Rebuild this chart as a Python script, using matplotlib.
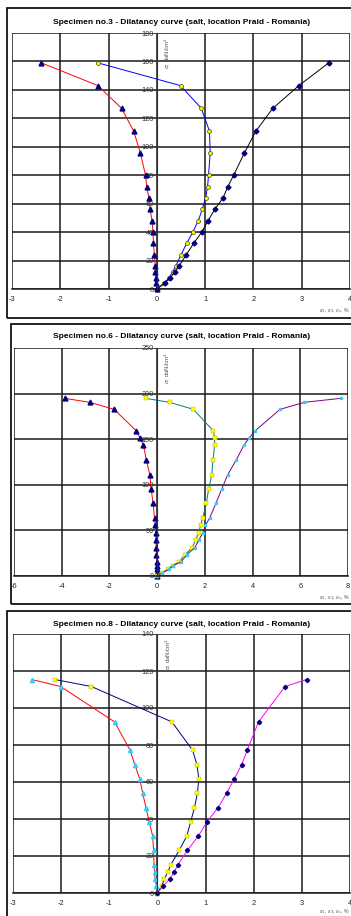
import matplotlib.pyplot as plt
from matplotlib.patches import Rectangle

plt.rcParams['font.family'] = ['Liberation Sans', 'DejaVu Sans']

W, H = 351, 916

# ---- specimen no.3 ----
s3_y = [0, 4, 8, 12, 16, 24, 32, 40, 48, 56, 64, 72, 80, 95.5, 111, 127, 143, 159]
s3_e2 = [0, -0.014, -0.02, -0.03, -0.035, -0.05, -0.07, -0.08, -0.10, -0.138, -0.166,
         -0.21, -0.235, -0.34, -0.48, -0.73, -1.22, -2.39]
s3_ev = [0, 0.145, 0.256, 0.325, 0.39, 0.50, 0.615, 0.746, 0.857, 0.94, 1.01,
         1.05, 1.07, 1.105, 1.09, 0.92, 0.49, -1.22]
s3_e1 = [0, 0.166, 0.276, 0.38, 0.456, 0.608, 0.76, 0.93, 1.06, 1.20, 1.37,
         1.47, 1.59, 1.81, 2.05, 2.40, 2.94, 3.56]

# ---- specimen no.6 ----
s6_y = [0, 3.5, 7.5, 11.5, 15.5, 23.5, 31, 39.5, 47.3, 55.5, 63.5, 79.5, 95.5,
        111.2, 127, 143.2, 151.4, 159, 182.7, 190.4, 194.8]
s6_e2 = [0, 0, -0.005, -0.01, -0.014, -0.03, -0.04, -0.05, -0.056, -0.07, -0.11,
         -0.17, -0.25, -0.31, -0.45, -0.575, -0.72, -0.87, -1.80, -2.82, -3.87]
s6_ev = [0, 0.22, 0.45, 0.65, 0.93, 1.16, 1.47, 1.61, 1.74, 1.82, 1.91, 2.06,
         2.16, 2.29, 2.34, 2.41, 2.41, 2.36, 1.52, 0.53, -0.48]
s6_e1 = [0, 0.22, 0.50, 0.67, 1.0, 1.25, 1.57, 1.75, 1.92, 2.02, 2.20, 2.46,
         2.71, 2.96, 3.31, 3.63, 3.86, 4.10, 5.15, 6.16, 7.70]

# ---- specimen no.8 ----
s8_y = [0, 3.9, 7.7, 11.6, 15.4, 23, 30.8, 38.5, 46.2, 53.9, 61.8, 69.4, 77.2,
        92.5, 111.6, 115.4]
s8_e2 = [0, -0.02, -0.05, -0.06, -0.07, -0.08, -0.10, -0.17, -0.24, -0.305, -0.37,
         -0.47, -0.57, -0.89, -2.01, -2.61]
s8_ev = [0, 0.09, 0.145, 0.22, 0.28, 0.45, 0.61, 0.69, 0.77, 0.83, 0.86, 0.82,
         0.73, 0.30, -1.37, -2.13]
s8_e1 = [0, 0.125, 0.26, 0.35, 0.43, 0.62, 0.85, 1.03, 1.26, 1.435, 1.60, 1.75,
         1.865, 2.10, 2.65, 3.10]

titles = ['Specimen no.3 - Dilatancy curve (salt, location Praid - Romania)',
          'Specimen no.6 - Dilatancy curve (salt, location Praid - Romania)',
          'Specimen no.8 - Dilatancy curve (salt, location Praid - Romania)']
ylab = r'$\sigma$, daN/cm$^2$'
xlab = r'$\varepsilon_1$, $\varepsilon_3$, $\varepsilon_v$, %'

fig = plt.figure(figsize=(W / 100, H / 100), dpi=100)


def px_axes(l, t, r, b):
    return fig.add_axes([l / W, 1 - b / H, (r - l) / W, (b - t) / H])


def frame(l, t, r, b):
    fig.patches.append(Rectangle((l / W, 1 - b / H), (r - l) / W, (b - t) / H,
                                 transform=fig.transFigure, fill=False,
                                 edgecolor='black', linewidth=1.2, zorder=0))


def style(ax, xlim, xticks, ylim, yticks, title, title_y):
    ax.set_xlim(*xlim)
    ax.set_ylim(*ylim)
    ax.set_xticks(xticks)
    ax.set_yticks(yticks)
    ax.grid(True, color='#1a1a1a', linewidth=1.1)
    ax.set_axisbelow(True)
    for s in ['top', 'right']:
        ax.spines[s].set_visible(False)
    ax.spines['left'].set_position(('data', 0))
    ax.spines['left'].set_color('#333333')
    ax.spines['left'].set_linewidth(0.8)
    ax.spines['bottom'].set_color('#1a1a1a')
    ax.spines['bottom'].set_linewidth(1.1)
    ax.tick_params(axis='y', direction='out', length=2, pad=0.3,
                   labelsize=5.3, labelcolor='#333333', color='#444444')
    ax.tick_params(axis='x', length=0, pad=5, labelsize=5.3, labelcolor='#222222')
    ax.set_yticklabels([str(v) for v in yticks])
    ax.set_xticklabels([str(v) for v in xticks])
    for lab in ax.get_yticklabels():
        lab.set_zorder(5)
    fig.text(182 / W, 1 - title_y / H, title, ha='center', va='center',
             fontsize=6, fontweight='bold')
    ax.annotate(ylab, xy=(0, 1), xycoords=ax.get_xaxis_transform(),
                xytext=(7.5, -3), textcoords='offset points', rotation=90,
                ha='center', va='top', fontsize=4.3, color='#555555')


# panel 1
frame(7, 8, 360, 318)
ax1 = px_axes(12, 33, 350, 289)
style(ax1, (-3, 4), range(-3, 5), (0, 180), range(0, 181, 20), titles[0], 22.5)
ax1.plot(s3_e2, s3_y, color='red', lw=0.7, marker='^', ms=3.5,
         mfc='#000080', mec='#000080', clip_on=False)
ax1.plot(s3_ev, s3_y, color='#0000ff', lw=0.7, marker='o', ms=2.8,
         mfc='yellow', mec='#444400', mew=0.5, clip_on=False)
ax1.plot(s3_e1, s3_y, color='black', lw=0.7, marker='D', ms=2.5,
         mfc='#000080', mec='#000080', clip_on=False)
fig.text(350 / W, 1 - 311 / H, xlab, ha='right', va='center', fontsize=3.8,
         color='#555555')

# panel 2
frame(11, 324, 360, 604)
ax2 = px_axes(14, 348, 348, 576)
style(ax2, (-6, 8), range(-6, 9, 2), (0, 250), range(0, 251, 50), titles[1], 337)
ax2.plot(s6_e2, s6_y, color='red', lw=0.7, marker='^', ms=3.5,
         mfc='#000080', mec='#000080', clip_on=False)
ax2.plot(s6_ev, s6_y, color='#008080', lw=0.7, marker='s', ms=2.2,
         mfc='yellow', mec='#aaaa00', mew=0.3, clip_on=False)
ax2.plot(s6_e1, s6_y, color='#800080', lw=0.7, marker='s', ms=2.0,
         mfc='#33ccff', mec='#33ccff', clip_on=False)
fig.text(350 / W, 1 - 598 / H, xlab, ha='right', va='center', fontsize=3.8,
         color='#555555')

# panel 3
frame(7, 611, 360, 930)
ax3 = px_axes(13, 634, 350, 893)
style(ax3, (-3, 4), range(-3, 5), (0, 140), range(0, 141, 20), titles[2], 625)
ax3.plot(s8_e2, s8_y, color='red', lw=0.7, marker='^', ms=3,
         mfc='#33ccff', mec='#33ccff', clip_on=False)
ax3.plot(s8_ev, s8_y, color='#000080', lw=0.7, marker='s', ms=2.2,
         mfc='yellow', mec='#aaaa00', mew=0.3, clip_on=False)
ax3.plot(s8_e1, s8_y, color='#ff00ff', lw=0.7, marker='D', ms=2.2,
         mfc='#000080', mec='#000080', clip_on=False)
fig.text(350 / W, 1 - 912 / H, xlab, ha='right', va='center', fontsize=3.8,
         color='#555555')

fig.savefig('out.png', dpi=100)
